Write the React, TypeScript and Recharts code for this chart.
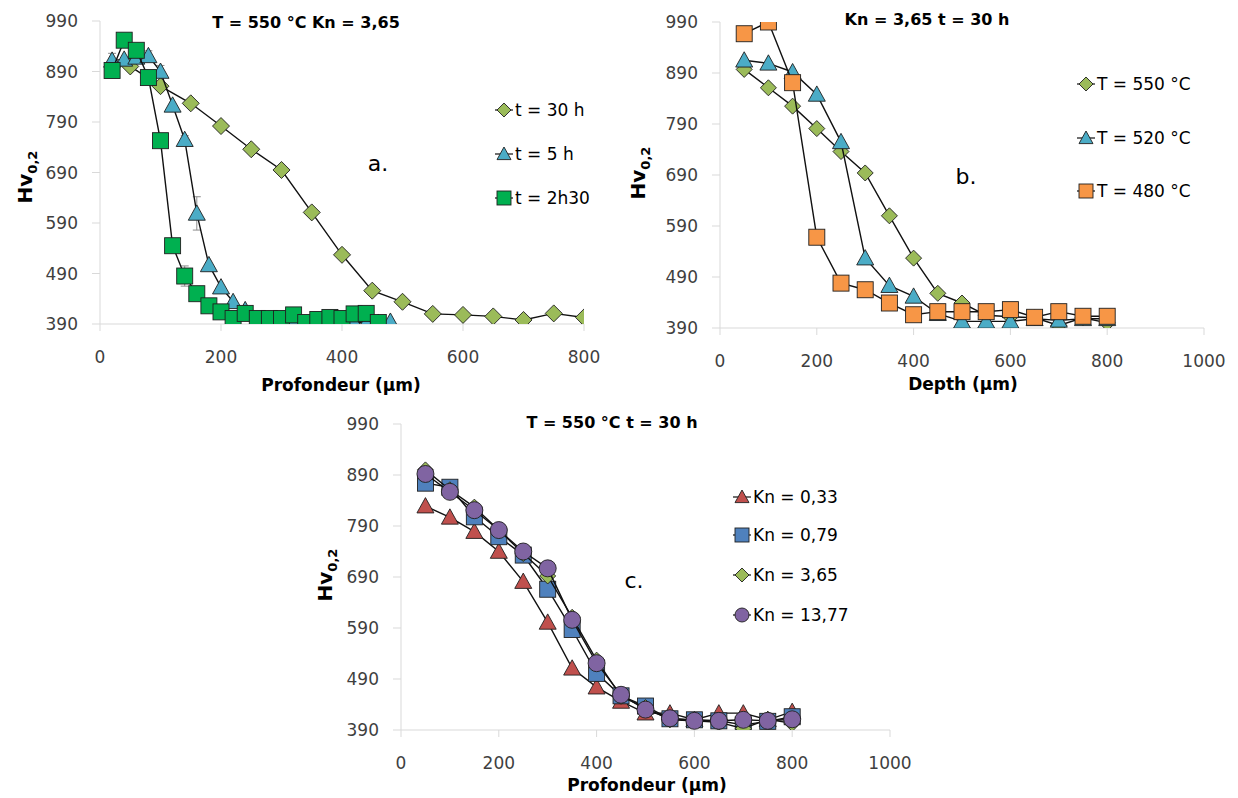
import React from 'react';
import { ScatterChart, Scatter, XAxis, YAxis, ErrorBar } from 'recharts';

const FONT = '"DejaVu Sans", sans-serif';
const AXIS_GRAY = '#D9D9D9';
const TICK_COLOR = '#3f3f3f';

// ---------- shared ticks ----------
const Y_TICKS = [390, 490, 590, 690, 790, 890, 990];
const X_TICKS_A = [0, 200, 400, 600, 800];
const X_TICKS_BC = [0, 200, 400, 600, 800, 1000];

// ---------- panel a : T = 550 °C, Kn = 3,65 ----------
const A_T30_X = [50, 100, 150, 200, 250, 300, 350, 400, 450, 500, 550, 600, 650, 700, 750, 800];
const A_T30_Y = [900, 861, 827, 782, 736, 695, 611, 527, 456, 434, 410, 408, 405, 398, 411, 403];
const A_T5_X = [20, 40, 60, 80, 100, 120, 140, 160, 180, 200, 220, 240, 260, 280, 300, 320, 340, 360, 380, 400, 420, 440, 460, 480];
const A_T5_Y = [912, 914, 918, 921, 890, 823, 755, 609, 507, 463, 434, 418, 392, 390, 390, 392, 390, 392, 390, 392, 393, 392, 393, 395];
const A_T5_ERR = [14, 0, 0, 10, 12, 0, 8, 33, 0, 0, 0, 0, 0, 0, 0, 0, 0, 0, 0, 0, 0, 0, 0, 0];
const A_T230_X = [20, 40, 60, 80, 100, 120, 140, 160, 180, 200, 220, 240, 260, 280, 300, 320, 340, 360, 380, 400, 420, 440, 460];
const A_T230_Y = [892, 952, 932, 878, 753, 545, 485, 450, 426, 414, 401, 411, 401, 401, 401, 408, 393, 399, 403, 401, 410, 411, 393];
const A_T230_ERR = [14, 0, 0, 0, 0, 0, 20, 0, 0, 0, 0, 0, 0, 0, 0, 0, 0, 0, 0, 0, 0, 0, 0];

// ---------- panel b : Kn = 3,65, t = 30 h ----------
const B_X = [50, 100, 150, 200, 250, 300, 350, 400, 450, 500, 550, 600, 650, 700, 750, 800];
const B_T550_Y = [897, 861, 825, 781, 736, 694, 610, 527, 458, 439, 415, 412, 410, 395, 410, 400];
const B_T520_Y = [915, 909, 892, 848, 755, 527, 473, 452, 418, 403, 403, 403, 408, 405, 408, 408];
const B_T480_Y = [967, 990, 871, 568, 478, 465, 439, 416, 422, 422, 422, 426, 411, 422, 413, 413];

// ---------- panel c : T = 550 °C, t = 30 h ----------
const C_X = [50, 100, 150, 200, 250, 300, 350, 400, 450, 500, 550, 600, 650, 700, 750, 800];
const C_KN033_Y = [829, 807, 779, 740, 681, 601, 511, 474, 446, 423, 423, 410, 423, 423, 410, 426];
const C_KN079_Y = [874, 866, 808, 769, 733, 666, 587, 501, 457, 437, 412, 410, 408, 400, 407, 416];
const C_KN365_Y = [900, 861, 827, 782, 736, 692, 611, 527, 456, 434, 410, 408, 405, 393, 411, 403];
const C_KN1377_Y = [892, 857, 821, 782, 740, 707, 606, 521, 459, 430, 413, 408, 408, 410, 408, 411];

const zip = (xs: number[], ys: number[], errs?: number[]) =>
  xs.map((x, i) => (errs ? { x, y: ys[i], err: errs[i] } : { x, y: ys[i] }));

type Kind = 'diamond' | 'square' | 'triangle' | 'circle';

function marker(kind: Kind, cx: number, cy: number, fill: string, size: number, key?: string) {
  const h = size / 2;
  const common = { fill, stroke: '#1f1f1f', strokeWidth: 0.9 };
  if (kind === 'diamond') {
    return <polygon key={key} points={`${cx},${cy - h} ${cx + h},${cy} ${cx},${cy + h} ${cx - h},${cy}`} {...common} />;
  }
  if (kind === 'square') {
    return <rect key={key} x={cx - h} y={cy - h} width={size} height={size} {...common} />;
  }
  if (kind === 'triangle') {
    return <polygon key={key} points={`${cx},${cy - h} ${cx + h},${cy + h * 0.8} ${cx - h},${cy + h * 0.8}`} {...common} />;
  }
  return <circle key={key} cx={cx} cy={cy} r={h} {...common} />;
}

type SeriesDef = { name: string; data: any[]; kind: Kind; fill: string; size: number; hasErr?: boolean };

const LINE = { stroke: '#111', strokeWidth: 1.4 };

function Panel(props: {
  left: number; top: number; width: number; height: number;
  margin: { top: number; right: number; bottom: number; left: number };
  yWidth: number; xDomain: [number, number]; xTicks: number[]; series: SeriesDef[];
}) {
  const { left, top, width, height, margin, yWidth, xDomain, xTicks, series } = props;
  return (
    <div style={{ position: 'absolute', left, top, width, height }}>
      <ScatterChart width={width} height={height} margin={margin}>
        <XAxis
          type="number" dataKey="x" domain={xDomain} ticks={xTicks} interval={0} height={30}
          axisLine={{ stroke: AXIS_GRAY }} tickLine={{ stroke: AXIS_GRAY }} tickSize={7} tickMargin={20}
          tick={{ fill: TICK_COLOR, fontSize: 17, fontFamily: FONT }} allowDataOverflow
        />
        <YAxis
          type="number" dataKey="y" domain={[390, 990]} ticks={Y_TICKS} interval={0} width={yWidth}
          axisLine={{ stroke: AXIS_GRAY }} tickLine={{ stroke: AXIS_GRAY }} tickSize={8} tickMargin={14}
          tick={{ fill: TICK_COLOR, fontSize: 17, fontFamily: FONT }} allowDataOverflow
        />
        {series.map((s) => (
          <Scatter
            key={s.name} name={s.name} data={s.data} isAnimationActive={false}
            line={LINE} lineType="joint"
            shape={(p: any) => marker(s.kind, p.cx, p.cy, s.fill, s.size)}
          >
            {s.hasErr ? (
              <ErrorBar dataKey="err" direction="y" width={4} stroke="#8c8c8c" strokeWidth={1} isAnimationActive={false} />
            ) : null}
          </Scatter>
        ))}
      </ScatterChart>
    </div>
  );
}

const GREEN_D = '#9BBB59';
const AQUA_T = '#4BACC6';
const GREEN_S = '#00B050';
const ORANGE_S = '#F79646';
const RED_T = '#C0504D';
const BLUE_S = '#4F81BD';
const PURPLE_C = '#8064A2';

const SERIES_A: SeriesDef[] = [
  { name: 't = 30 h', data: zip(A_T30_X, A_T30_Y), kind: 'diamond', fill: GREEN_D, size: 17 },
  { name: 't = 5 h', data: zip(A_T5_X, A_T5_Y, A_T5_ERR), kind: 'triangle', fill: AQUA_T, size: 17, hasErr: true },
  { name: 't = 2h30', data: zip(A_T230_X, A_T230_Y, A_T230_ERR), kind: 'square', fill: GREEN_S, size: 16, hasErr: true },
];
const SERIES_B: SeriesDef[] = [
  { name: 'T = 550 °C', data: zip(B_X, B_T550_Y), kind: 'diamond', fill: GREEN_D, size: 16 },
  { name: 'T = 520 °C', data: zip(B_X, B_T520_Y), kind: 'triangle', fill: AQUA_T, size: 17 },
  { name: 'T = 480 °C', data: zip(B_X, B_T480_Y), kind: 'square', fill: ORANGE_S, size: 16 },
];
const SERIES_C: SeriesDef[] = [
  { name: 'Kn = 0,33', data: zip(C_X, C_KN033_Y), kind: 'triangle', fill: RED_T, size: 17 },
  { name: 'Kn = 0,79', data: zip(C_X, C_KN079_Y), kind: 'square', fill: BLUE_S, size: 16 },
  { name: 'Kn = 3,65', data: zip(C_X, C_KN365_Y), kind: 'diamond', fill: GREEN_D, size: 16 },
  { name: 'Kn = 13,77', data: zip(C_X, C_KN1377_Y), kind: 'circle', fill: PURPLE_C, size: 17 },
];

function LegendItems({ x, ys, series }: { x: number; ys: number[]; series: SeriesDef[] }) {
  return (
    <g>
      {series.map((s, i) => (
        <g key={s.name}>
          <line x1={x - 9} x2={x + 9} y1={ys[i]} y2={ys[i]} stroke="#111" strokeWidth={1.2} />
          {marker(s.kind, x, ys[i], s.fill, 14)}
          <text x={x + 11} y={ys[i] + 6} fontSize={17} fontFamily={FONT} fill="#000">{s.name}</text>
        </g>
      ))}
    </g>
  );
}

function HvLabel({ x, y }: { x: number; y: number }) {
  return (
    <text transform={`translate(${x},${y}) rotate(-90)`} x={0} y={0} textAnchor="middle"
      fontFamily={FONT} fontWeight="bold" fontSize={20} fill="#000">
      Hv<tspan fontSize={13} dy={5}>0,2</tspan>
    </text>
  );
}

function Title({ x, y, text, size = 16 }: { x: number; y: number; text: string; size?: number }) {
  return (
    <text x={x} y={y} textAnchor="middle" fontFamily={FONT} fontWeight="bold" fontSize={size} fill="#000">{text}</text>
  );
}

export default function App() {
  return (
    <div style={{ position: 'absolute', left: 0, top: 0, width: 1238, height: 798, background: '#fff', fontFamily: FONT }}>
      <Panel left={0} top={0} width={620} height={400}
        margin={{ top: 21, right: 36, bottom: 46, left: 0 }} yWidth={100}
        xDomain={[0, 800]} xTicks={X_TICKS_A} series={SERIES_A} />
      <Panel left={620} top={0} width={618} height={400}
        margin={{ top: 22, right: 34, bottom: 42, left: 0 }} yWidth={100}
        xDomain={[0, 1000]} xTicks={X_TICKS_BC} series={SERIES_B} />
      <Panel left={300} top={400} width={620} height={398}
        margin={{ top: 24, right: 30, bottom: 38, left: 0 }} yWidth={101}
        xDomain={[0, 1000]} xTicks={X_TICKS_BC} series={SERIES_C} />
      <svg width={1238} height={798} style={{ position: 'absolute', left: 0, top: 0, pointerEvents: 'none' }}>
        {/* panel a */}
        <Title x={306} y={28} text="T = 550 °C Kn = 3,65" />
        <HvLabel x={32} y={177} />
        <Title x={341} y={391} text="Profondeur (µm)" size={17} />
        <text x={378} y={171} textAnchor="middle" fontFamily={FONT} fontSize={22} fill="#000">a.</text>
        <LegendItems x={504} ys={[110, 154, 198]} series={SERIES_A} />
        {/* panel b */}
        <Title x={927} y={25} text="Kn = 3,65 t = 30 h" />
        <HvLabel x={645} y={173} />
        <Title x={963} y={390} text="Depth (µm)" size={17} />
        <text x={966} y={184} textAnchor="middle" fontFamily={FONT} fontSize={22} fill="#000">b.</text>
        <LegendItems x={1086} ys={[84, 138, 191]} series={SERIES_B} />
        {/* panel c */}
        <Title x={612} y={428} text="T = 550 °C t = 30 h" />
        <HvLabel x={332} y={575} />
        <Title x={647} y={791} text="Profondeur (µm)" size={17} />
        <text x={634} y={588} textAnchor="middle" fontFamily={FONT} fontSize={22} fill="#000">c.</text>
        <LegendItems x={742} ys={[497, 535, 575, 615]} series={SERIES_C} />
      </svg>
    </div>
  );
}
